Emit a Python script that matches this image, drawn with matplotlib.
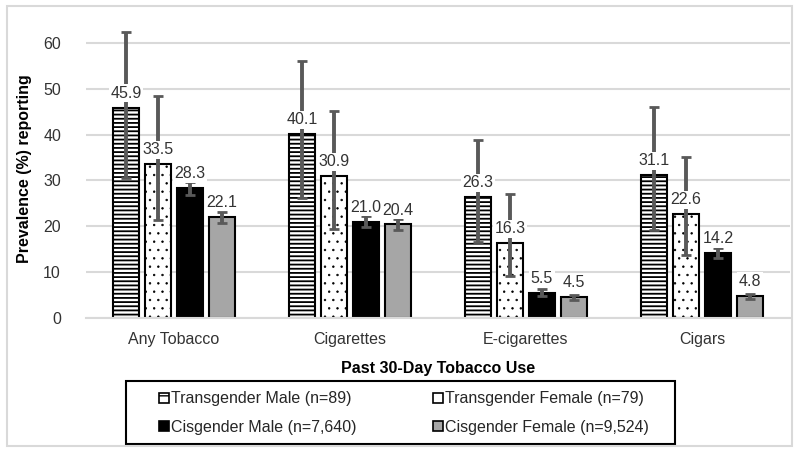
import numpy as np
import matplotlib
matplotlib.use("Agg")
import matplotlib.pyplot as plt
from matplotlib.patches import Rectangle, Patch

plt.rcParams["font.family"] = ["Liberation Sans", "DejaVu Sans"]

# data
categories = ["Any Tobacco", "Cigarettes", "E-cigarettes", "Cigars"]
groups = ["Transgender Male (n=89)", "Transgender Female (n=79)",
          "Cisgender Male (n=7,640)", "Cisgender Female (n=9,524)"]
values = [
    [45.9, 40.1, 26.3, 31.1],
    [33.5, 30.9, 16.3, 22.6],
    [28.3, 21.0, 5.5, 14.2],
    [22.1, 20.4, 4.5, 4.8],
]
ci_low = [
    [30.6, 26.2, 16.6, 19.2],
    [21.4, 19.5, 9.1, 13.7],
    [26.8, 19.9, 4.8, 13.1],
    [20.8, 19.2, 3.9, 4.2],
]
ci_high = [
    [62.4, 56.0, 38.8, 46.1],
    [48.5, 45.2, 27.0, 35.1],
    [29.7, 22.3, 6.3, 15.3],
    [23.2, 21.6, 5.1, 5.2],
]

colors = ["white", "white", "black", "#a6a6a6"]
hatches = ["----", "..", None, None]
hatch_lw = [1.3, 0.5, 1.0, 1.0]

W, H = 800, 454
fig = plt.figure(figsize=(8, 4.54), dpi=100)
ax = fig.add_axes([86 / W, 1 - 318 / H, (790 - 86) / W, (318 - 20) / H])

x = np.arange(len(categories))
step = 0.181
width = 0.147
for i in range(4):
    xs = x + (i - 1.5) * step
    v = np.array(values[i])
    lo = v - np.array(ci_low[i])
    hi = np.array(ci_high[i]) - v
    with plt.rc_context({"hatch.linewidth": hatch_lw[i]}):
        bars = ax.bar(xs, v, width, color=colors[i], edgecolor="black", linewidth=1.5,
                      hatch=hatches[i], zorder=2)
    for b in bars:
        if hasattr(b, "set_hatch_linewidth"):
            b.set_hatch_linewidth(hatch_lw[i])
    ax.errorbar(xs, v, yerr=[lo, hi], fmt="none", ecolor="#595959",
                elinewidth=2.8, capsize=3.5, capthick=2, zorder=3)
    for xx, vv in zip(xs, v):
        ax.annotate(f"{vv:.1f}", (xx, vv), xytext=(0, 5), textcoords="offset points",
                    ha="center", va="bottom", fontsize=11.5, color="#333333", zorder=4,
                    bbox=dict(boxstyle="square,pad=0.1", fc="white", ec="none"))

ax.set_xlim(-0.5, 3.5)
ax.set_ylim(0, 65)
ax.set_yticks(range(0, 61, 10))
ax.set_xticks(x)
ax.set_xticklabels(categories)
ax.yaxis.grid(True, color="#d9d9d9", linewidth=1.5, zorder=0)
ax.set_axisbelow(True)
for s in ["top", "right", "left"]:
    ax.spines[s].set_visible(False)
ax.spines["bottom"].set_color("#d9d9d9")
ax.spines["bottom"].set_linewidth(1.5)
ax.tick_params(axis="both", length=0, labelsize=11.5, colors="#333333")
ax.tick_params(axis="x", pad=10)
ax.tick_params(axis="y", pad=18)
ax.set_ylabel("Prevalence (%) reporting", fontsize=11.5, fontweight="bold", labelpad=8)
ax.set_xlabel("Past 30-Day Tobacco Use", fontsize=11.5, fontweight="bold", labelpad=10)

handles = []
for i in range(4):
    with plt.rc_context({"hatch.linewidth": 1.0}):
        handles.append(Patch(facecolor=colors[i], edgecolor="black",
                             hatch=("--" if i == 0 else None), linewidth=1.2))
order = [0, 2, 1, 3]
leg = fig.legend([handles[k] for k in order], [groups[k] for k in order], ncol=2,
                 loc="center", bbox_to_anchor=(404 / W, 1 - 413 / H), fontsize=11.5,
                 frameon=False, handlelength=0.6, handleheight=0.6,
                 handletextpad=0.15, columnspacing=4.8, labelspacing=0.85)
for t in leg.get_texts():
    t.set_color("#262626")

# legend frame
fig.patches.append(Rectangle((126 / W, 1 - 444 / H), 549 / W, 63 / H,
                             transform=fig.transFigure, fill=False,
                             edgecolor="black", linewidth=1.5))
# chart border
fig.patches.append(Rectangle((7 / W, 1 - 446 / H), 785 / W, 440 / H,
                             transform=fig.transFigure, fill=False,
                             edgecolor="#d9d9d9", linewidth=1.5))

fig.savefig("out.png", dpi=100)
